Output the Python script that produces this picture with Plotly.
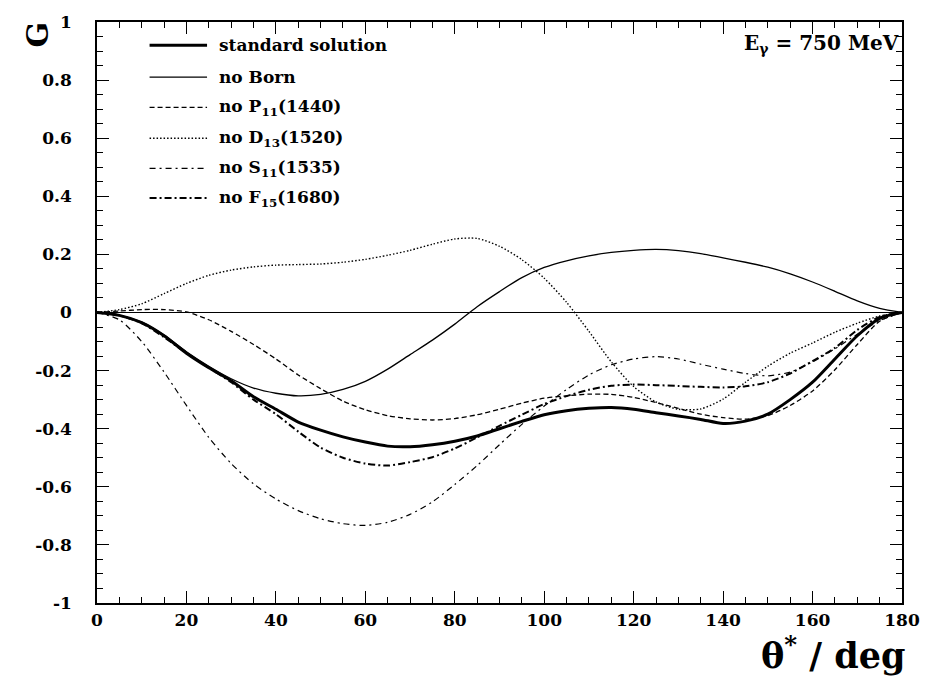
import plotly.graph_objects as go

theta = [0, 5, 10, 15, 20, 25, 30, 35, 40, 45, 50, 55, 60, 65, 70, 75, 80, 85, 90,
         95, 100, 105, 110, 115, 120, 125, 130, 135, 140, 145, 150, 155, 160, 165, 170, 175, 180]

g_standard = [0, -0.01, -0.035, -0.08, -0.14, -0.19, -0.235, -0.29, -0.333, -0.377, -0.405,
              -0.428, -0.446, -0.46, -0.462, -0.455, -0.443, -0.425, -0.40, -0.375, -0.352,
              -0.338, -0.33, -0.327, -0.333, -0.345, -0.356, -0.368, -0.382, -0.374, -0.35,
              -0.30, -0.24, -0.16, -0.08, -0.02, 0]
g_no_born = [0, -0.01, -0.033, -0.078, -0.135, -0.185, -0.228, -0.26, -0.278, -0.287, -0.282,
             -0.265, -0.237, -0.195, -0.145, -0.095, -0.04, 0.02, 0.072, 0.12, 0.155, 0.178,
             0.195, 0.207, 0.214, 0.217, 0.213, 0.203, 0.188, 0.173, 0.156, 0.133, 0.105,
             0.073, 0.04, 0.014, 0]
g_no_p11 = [0, 0.005, 0.01, 0.01, 0.002, -0.025, -0.065, -0.11, -0.16, -0.215, -0.262, -0.305,
            -0.335, -0.355, -0.366, -0.37, -0.365, -0.352, -0.333, -0.312, -0.295, -0.287,
            -0.281, -0.282, -0.292, -0.31, -0.33, -0.35, -0.362, -0.367, -0.355, -0.32, -0.27,
            -0.197, -0.11, -0.03, 0]
g_no_d13 = [0, 0.01, 0.03, 0.065, 0.1, 0.128, 0.146, 0.157, 0.163, 0.165, 0.167, 0.173, 0.183,
            0.197, 0.214, 0.235, 0.253, 0.255, 0.228, 0.182, 0.118, 0.035, -0.065, -0.17, -0.255,
            -0.308, -0.333, -0.332, -0.298, -0.24, -0.185, -0.14, -0.105, -0.068, -0.037,
            -0.012, 0]
g_no_s11 = [0, -0.025, -0.1, -0.205, -0.32, -0.43, -0.52, -0.59, -0.642, -0.682, -0.71,
            -0.727, -0.733, -0.722, -0.695, -0.652, -0.592, -0.527, -0.455, -0.385, -0.322,
            -0.265, -0.215, -0.18, -0.16, -0.152, -0.16, -0.178, -0.195, -0.21, -0.218,
            -0.205, -0.17, -0.125, -0.075, -0.028, 0]
g_no_f15 = [0, -0.01, -0.037, -0.085, -0.14, -0.19, -0.24, -0.3, -0.35, -0.41, -0.465, -0.5,
            -0.52, -0.527, -0.515, -0.498, -0.468, -0.43, -0.39, -0.352, -0.315, -0.288,
            -0.266, -0.252, -0.248, -0.25, -0.253, -0.256, -0.258, -0.254, -0.24, -0.21,
            -0.167, -0.122, -0.06, -0.015, 0]

series_names = ["standard solution", "no Born", "no P<sub>11</sub>(1440)",
                "no D<sub>13</sub>(1520)", "no S<sub>11</sub>(1535)", "no F<sub>15</sub>(1680)"]
series_values = [g_standard, g_no_born, g_no_p11, g_no_d13, g_no_s11, g_no_f15]
series_widths = [3, 1.3, 1.3, 1.4, 1.2, 2]
series_dashes = ["solid", "solid", "5px,3px", "1.5px,2px", "6px,4px,2px,4px", "7px,3px,2px,3px"]

x_tickvals = [0, 20, 40, 60, 80, 100, 120, 140, 160, 180]
x_ticktext = ["0", "20", "40", "60", "80", "100", "120", "140", "160", "180"]
y_tickvals = [1, 0.8, 0.6, 0.4, 0.2, 0, -0.2, -0.4, -0.6, -0.8, -1]
y_ticktext = ["1", "0.8", "0.6", "0.4", "0.2", "0", "-0.2", "-0.4", "-0.6", "-0.8", "-1"]

FONT = "DejaVu Serif"

fig = go.Figure()
for name, vals, w, d in zip(series_names, series_values, series_widths, series_dashes):
    fig.add_trace(go.Scatter(x=theta, y=vals, mode="lines", name=name,
                             line=dict(color="black", width=w, dash=d, shape="spline", smoothing=0.7),
                             showlegend=False))

# custom legend (top-left)
row_y = [0.960, 0.905, 0.853, 0.800, 0.748, 0.697]
for name, w, d, ry in zip(series_names, series_widths, series_dashes, row_y):
    fig.add_shape(type="line", xref="paper", yref="paper", x0=0.0653, x1=0.1367, y0=ry, y1=ry,
                  line=dict(color="black", width=w, dash=d))
    fig.add_annotation(xref="paper", yref="paper", x=0.149, y=ry, xanchor="left", yanchor="middle",
                       text="<b>" + name + "</b>", showarrow=False,
                       font=dict(family=FONT, size=17, color="black"))

fig.add_annotation(xref="paper", yref="paper", x=0.999, y=0.962, xanchor="right", yanchor="middle",
                   text="<b>E<sub>γ</sub> = 750 MeV</b>", showarrow=False,
                   font=dict(family=FONT, size=20, color="black"))

fig.add_annotation(xref="paper", yref="paper", x=1.006, y=-0.044, xanchor="right", yanchor="top",
                   text="<b>θ<sup>*</sup> / deg</b>", showarrow=False, borderpad=0,
                   font=dict(family=FONT, size=35, color="black"))

fig.add_annotation(xref="paper", yref="paper", x=-0.074, y=1.005, xanchor="center", yanchor="top",
                   text="<b>G</b>", showarrow=False, textangle=-90,
                   font=dict(family=FONT, size=30, color="black"))

axis_common = dict(showline=True, linecolor="black", linewidth=1.5, mirror="allticks",
                   ticks="inside", ticklen=12, tickwidth=1.2, tickcolor="black",
                   showgrid=False,
                   tickfont=dict(family=FONT, size=17, color="black", weight="bold"))

fig.update_xaxes(range=[0, 180], tickmode="array", tickvals=x_tickvals, ticktext=x_ticktext,
                 zeroline=False, ticklabelstandoff=1,
                 minor=dict(dtick=5, tick0=0, ticks="inside", ticklen=6, tickwidth=1, tickcolor="black"),
                 **axis_common)
fig.update_yaxes(range=[-1, 1], tickmode="array", tickvals=y_tickvals, ticktext=y_ticktext,
                 zeroline=True, zerolinecolor="black", zerolinewidth=1.3, ticklabelstandoff=20,
                 minor=dict(dtick=0.05, tick0=0, ticks="inside", ticklen=6, tickwidth=1, tickcolor="black"),
                 **axis_common)

fig.update_layout(width=932, height=682, margin=dict(l=97, r=23, t=15, b=79),
                  paper_bgcolor="white", plot_bgcolor="white", showlegend=False,
                  font=dict(family=FONT, color="black"))

fig.write_html("out.html")
